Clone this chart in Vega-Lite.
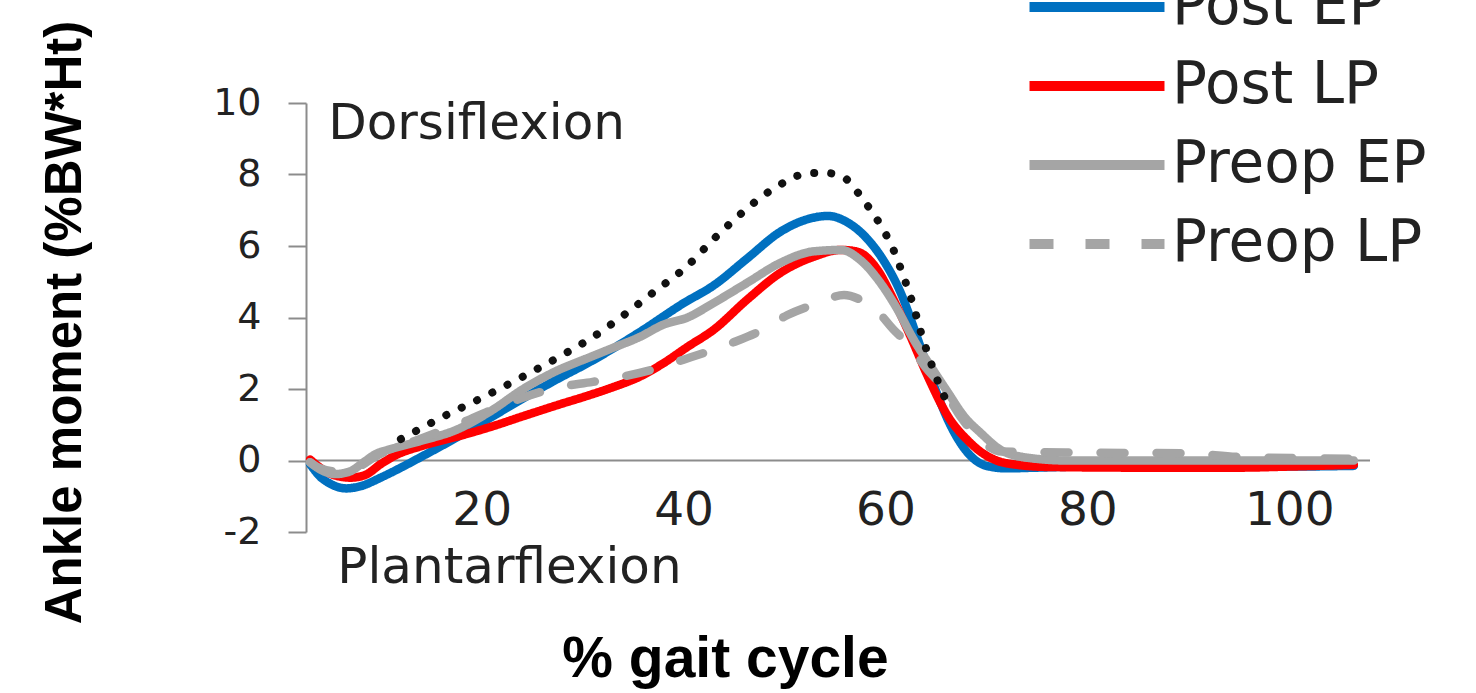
{
  "$schema": "https://vega.github.io/schema/vega-lite/v6.json",
  "width": 1064,
  "height": 429,
  "autosize": {"type": "none"},
  "padding": {"left": 306, "top": 103, "right": 106, "bottom": 161},
  "background": "white",
  "config": {"view": {"stroke": null}, "font": "DejaVu Sans"},
  "data": {"values": [{}]},
  "datasets": {
    "curves": [
      {"series": "Post EP", "pct": 3, "moment": -0.1},
      {"series": "Post EP", "pct": 4, "moment": -0.45},
      {"series": "Post EP", "pct": 5, "moment": -0.65},
      {"series": "Post EP", "pct": 6.6, "moment": -0.78},
      {"series": "Post EP", "pct": 8, "moment": -0.72},
      {"series": "Post EP", "pct": 10, "moment": -0.48},
      {"series": "Post EP", "pct": 12, "moment": -0.2},
      {"series": "Post EP", "pct": 14, "moment": 0.1},
      {"series": "Post EP", "pct": 17, "moment": 0.56},
      {"series": "Post EP", "pct": 20, "moment": 1.05},
      {"series": "Post EP", "pct": 24, "moment": 1.72},
      {"series": "Post EP", "pct": 27, "moment": 2.2},
      {"series": "Post EP", "pct": 31, "moment": 2.8},
      {"series": "Post EP", "pct": 35.7, "moment": 3.6},
      {"series": "Post EP", "pct": 40, "moment": 4.4},
      {"series": "Post EP", "pct": 43, "moment": 4.9},
      {"series": "Post EP", "pct": 46.3, "moment": 5.65},
      {"series": "Post EP", "pct": 49.6, "moment": 6.4},
      {"series": "Post EP", "pct": 52.3, "moment": 6.75},
      {"series": "Post EP", "pct": 54.3, "moment": 6.84},
      {"series": "Post EP", "pct": 56.3, "moment": 6.65},
      {"series": "Post EP", "pct": 58.2, "moment": 6.2},
      {"series": "Post EP", "pct": 59.8, "moment": 5.6},
      {"series": "Post EP", "pct": 61.5, "moment": 4.7},
      {"series": "Post EP", "pct": 63.2, "moment": 3.4},
      {"series": "Post EP", "pct": 64.8, "moment": 2.1},
      {"series": "Post EP", "pct": 66.5, "moment": 0.95},
      {"series": "Post EP", "pct": 68.2, "moment": 0.2},
      {"series": "Post EP", "pct": 70, "moment": -0.15},
      {"series": "Post EP", "pct": 72, "moment": -0.22},
      {"series": "Post EP", "pct": 75, "moment": -0.2},
      {"series": "Post EP", "pct": 80, "moment": -0.17},
      {"series": "Post EP", "pct": 90, "moment": -0.17},
      {"series": "Post EP", "pct": 100, "moment": -0.17},
      {"series": "Post EP", "pct": 106.4, "moment": -0.15},

      {"series": "Post LP", "pct": 3, "moment": 0.03},
      {"series": "Post LP", "pct": 4, "moment": -0.2},
      {"series": "Post LP", "pct": 5.5, "moment": -0.42},
      {"series": "Post LP", "pct": 7, "moment": -0.48},
      {"series": "Post LP", "pct": 8.5, "moment": -0.4},
      {"series": "Post LP", "pct": 10, "moment": -0.1},
      {"series": "Post LP", "pct": 11.5, "moment": 0.15},
      {"series": "Post LP", "pct": 14, "moment": 0.4},
      {"series": "Post LP", "pct": 17.6, "moment": 0.67},
      {"series": "Post LP", "pct": 21, "moment": 0.95},
      {"series": "Post LP", "pct": 24, "moment": 1.23},
      {"series": "Post LP", "pct": 27.5, "moment": 1.55},
      {"series": "Post LP", "pct": 30.8, "moment": 1.84},
      {"series": "Post LP", "pct": 33, "moment": 2.05},
      {"series": "Post LP", "pct": 35.7, "moment": 2.35},
      {"series": "Post LP", "pct": 38, "moment": 2.72},
      {"series": "Post LP", "pct": 40.4, "moment": 3.18},
      {"series": "Post LP", "pct": 43, "moment": 3.66},
      {"series": "Post LP", "pct": 46.3, "moment": 4.5},
      {"series": "Post LP", "pct": 49.6, "moment": 5.25},
      {"series": "Post LP", "pct": 52.9, "moment": 5.7},
      {"series": "Post LP", "pct": 55.6, "moment": 5.89},
      {"series": "Post LP", "pct": 57.2, "moment": 5.84},
      {"series": "Post LP", "pct": 59.2, "moment": 5.34},
      {"series": "Post LP", "pct": 60.8, "moment": 4.5},
      {"series": "Post LP", "pct": 62.5, "moment": 3.46},
      {"series": "Post LP", "pct": 64.2, "moment": 2.35},
      {"series": "Post LP", "pct": 66.2, "moment": 1.23},
      {"series": "Post LP", "pct": 68.2, "moment": 0.55},
      {"series": "Post LP", "pct": 69.4, "moment": 0.25},
      {"series": "Post LP", "pct": 71, "moment": 0.0},
      {"series": "Post LP", "pct": 73, "moment": -0.12},
      {"series": "Post LP", "pct": 76, "moment": -0.18},
      {"series": "Post LP", "pct": 85, "moment": -0.2},
      {"series": "Post LP", "pct": 95, "moment": -0.2},
      {"series": "Post LP", "pct": 100, "moment": -0.17},
      {"series": "Post LP", "pct": 106.4, "moment": -0.12},

      {"series": "Preop EP", "pct": 3, "moment": -0.05},
      {"series": "Preop EP", "pct": 4, "moment": -0.25},
      {"series": "Preop EP", "pct": 5.5, "moment": -0.38},
      {"series": "Preop EP", "pct": 7, "moment": -0.3},
      {"series": "Preop EP", "pct": 8.3, "moment": -0.05},
      {"series": "Preop EP", "pct": 9.5, "moment": 0.18},
      {"series": "Preop EP", "pct": 11, "moment": 0.32},
      {"series": "Preop EP", "pct": 14, "moment": 0.55},
      {"series": "Preop EP", "pct": 17.6, "moment": 0.87},
      {"series": "Preop EP", "pct": 21, "moment": 1.4},
      {"series": "Preop EP", "pct": 24, "moment": 1.98},
      {"series": "Preop EP", "pct": 27, "moment": 2.45},
      {"series": "Preop EP", "pct": 30.8, "moment": 2.9},
      {"series": "Preop EP", "pct": 33, "moment": 3.15},
      {"series": "Preop EP", "pct": 35.7, "moment": 3.46},
      {"series": "Preop EP", "pct": 38, "moment": 3.8},
      {"series": "Preop EP", "pct": 40.4, "moment": 4.0},
      {"series": "Preop EP", "pct": 43, "moment": 4.41},
      {"series": "Preop EP", "pct": 46.3, "moment": 4.97},
      {"series": "Preop EP", "pct": 49.6, "moment": 5.53},
      {"series": "Preop EP", "pct": 52.9, "moment": 5.85},
      {"series": "Preop EP", "pct": 55.6, "moment": 5.89},
      {"series": "Preop EP", "pct": 57.5, "moment": 5.61},
      {"series": "Preop EP", "pct": 59.5, "moment": 4.97},
      {"series": "Preop EP", "pct": 61.2, "moment": 4.22},
      {"series": "Preop EP", "pct": 62.8, "moment": 3.38},
      {"series": "Preop EP", "pct": 64.5, "moment": 2.63},
      {"series": "Preop EP", "pct": 66.2, "moment": 1.9},
      {"series": "Preop EP", "pct": 67.8, "moment": 1.23},
      {"series": "Preop EP", "pct": 69.4, "moment": 0.78},
      {"series": "Preop EP", "pct": 71.4, "moment": 0.3},
      {"series": "Preop EP", "pct": 74, "moment": 0.08},
      {"series": "Preop EP", "pct": 78, "moment": 0.0},
      {"series": "Preop EP", "pct": 90, "moment": 0.0},
      {"series": "Preop EP", "pct": 106.4, "moment": 0.0},

      {"series": "Preop LP", "pct": 3, "moment": -0.05},
      {"series": "Preop LP", "pct": 4, "moment": -0.22},
      {"series": "Preop LP", "pct": 6, "moment": -0.32},
      {"series": "Preop LP", "pct": 8, "moment": -0.15},
      {"series": "Preop LP", "pct": 9.5, "moment": 0.12},
      {"series": "Preop LP", "pct": 12, "moment": 0.4},
      {"series": "Preop LP", "pct": 15, "moment": 0.72},
      {"series": "Preop LP", "pct": 18, "moment": 1.05},
      {"series": "Preop LP", "pct": 21, "moment": 1.42},
      {"series": "Preop LP", "pct": 24, "moment": 1.75},
      {"series": "Preop LP", "pct": 27.5, "moment": 2.04},
      {"series": "Preop LP", "pct": 31, "moment": 2.2},
      {"series": "Preop LP", "pct": 34, "moment": 2.35},
      {"series": "Preop LP", "pct": 37, "moment": 2.55},
      {"series": "Preop LP", "pct": 40, "moment": 2.82},
      {"series": "Preop LP", "pct": 44.7, "moment": 3.28},
      {"series": "Preop LP", "pct": 47.7, "moment": 3.64},
      {"series": "Preop LP", "pct": 50.3, "moment": 4.07},
      {"series": "Preop LP", "pct": 53.3, "moment": 4.4},
      {"series": "Preop LP", "pct": 55.9, "moment": 4.63},
      {"series": "Preop LP", "pct": 57.5, "moment": 4.5},
      {"series": "Preop LP", "pct": 58.9, "moment": 4.26},
      {"series": "Preop LP", "pct": 60.8, "moment": 3.66},
      {"series": "Preop LP", "pct": 62.5, "moment": 3.18},
      {"series": "Preop LP", "pct": 64, "moment": 2.6},
      {"series": "Preop LP", "pct": 65.5, "moment": 2.1},
      {"series": "Preop LP", "pct": 67.5, "moment": 1.2},
      {"series": "Preop LP", "pct": 69.9, "moment": 0.45},
      {"series": "Preop LP", "pct": 71.5, "moment": 0.25},
      {"series": "Preop LP", "pct": 80, "moment": 0.22},
      {"series": "Preop LP", "pct": 90, "moment": 0.2},
      {"series": "Preop LP", "pct": 95, "moment": 0.1},
      {"series": "Preop LP", "pct": 106.4, "moment": 0.05}
    ],
    "normal": [
      {"pct": 12, "moment": 0.6},
      {"pct": 13.2, "moment": 0.78},
      {"pct": 16, "moment": 1.2},
      {"pct": 20, "moment": 1.75},
      {"pct": 24.1, "moment": 2.35},
      {"pct": 28, "moment": 2.95},
      {"pct": 31, "moment": 3.45},
      {"pct": 34, "moment": 4.05},
      {"pct": 37, "moment": 4.7},
      {"pct": 40.4, "moment": 5.45},
      {"pct": 43, "moment": 6.2},
      {"pct": 45, "moment": 6.73},
      {"pct": 48.9, "moment": 7.6},
      {"pct": 52.1, "moment": 8.02},
      {"pct": 53.9, "moment": 8.05},
      {"pct": 55.8, "moment": 7.93},
      {"pct": 57.8, "moment": 7.29},
      {"pct": 59.5, "moment": 6.59},
      {"pct": 60.8, "moment": 5.89},
      {"pct": 61.8, "moment": 5.14},
      {"pct": 62.8, "moment": 4.3},
      {"pct": 63.5, "moment": 3.6},
      {"pct": 64.3, "moment": 2.9},
      {"pct": 65.5, "moment": 2.0},
      {"pct": 66.5, "moment": 1.4}
    ]
  },
  "layer": [
    {
      "mark": {"type": "rule", "color": "#8c8c8c", "strokeWidth": 2},
      "encoding": {"y": {"datum": 0, "type": "quantitative"}}
    },
    {
      "data": {"name": "curves"},
      "mark": {"type": "line", "interpolate": "monotone", "strokeCap": "round", "strokeJoin": "round", "strokeWidth": 8.5},
      "encoding": {
        "x": {
          "field": "pct", "type": "quantitative",
          "scale": {"domain": [2.6, 108], "nice": false, "zero": false},
          "axis": {
            "values": [20, 40, 60, 80, 100],
            "domain": false, "ticks": false, "tickSize": 0, "grid": false,
            "labelFontSize": 47, "labelFont": "DejaVu Sans", "labelColor": "#222",
            "labelBaseline": "middle", "labelPadding": -22, "labelFlush": false, "labelOverlap": false,
            "title": "% gait cycle", "titleFont": "Liberation Sans", "titleFontWeight": "bold",
            "titleFontSize": 57, "titleColor": "#000", "titleX": 419, "titleY": 127,
            "titleBaseline": "middle", "titleAlign": "center"
          }
        },
        "y": {
          "field": "moment", "type": "quantitative",
          "scale": {"domain": [-2, 10], "nice": false, "zero": false},
          "axis": {
            "values": [-2, 0, 2, 4, 6, 8, 10],
            "labelExpr": "'' + datum.value",
            "domain": true, "domainColor": "#8c8c8c", "domainWidth": 2,
            "ticks": true, "tickSize": 18, "tickColor": "#8c8c8c", "tickWidth": 2, "grid": false,
            "labelFontSize": 38, "labelFont": "DejaVu Sans", "labelColor": "#222", "labelPadding": 27,
            "title": "Ankle moment (%BW*Ht)", "titleFont": "Liberation Sans", "titleFontWeight": "bold",
            "titleFontSize": 51, "titleColor": "#000", "titleAngle": -90, "titleX": -241, "titleY": 219,
            "titleAlign": "center", "titleBaseline": "middle"
          }
        },
        "color": {
          "field": "series", "type": "nominal",
          "scale": {"domain": ["Post EP", "Post LP", "Preop EP", "Preop LP"], "range": ["#0070C0", "#FF0000", "#A5A5A5", "#A5A5A5"]},
          "legend": {
            "orient": "none", "legendX": 762, "legendY": -125, "title": null,
            "symbolType": "M-4,0H4", "symbolSize": 1139, "symbolStrokeWidth": 10,
            "labelFontSize": 58, "labelFont": "DejaVu Sans", "labelColor": "#222",
            "labelOffset": 46, "rowPadding": 21, "labelLimit": 500
          }
        },
        "strokeDash": {
          "field": "series", "type": "nominal",
          "scale": {"domain": ["Post EP", "Post LP", "Preop EP", "Preop LP"], "range": [[1, 0], [1, 0], [1, 0], [24, 32]]},
          "legend": {
            "orient": "none", "legendX": 762, "legendY": -125, "title": null,
            "symbolType": "M-4,0H4", "symbolSize": 1139, "symbolStrokeWidth": 10,
            "labelFontSize": 58, "labelFont": "DejaVu Sans", "labelColor": "#222",
            "labelOffset": 46, "rowPadding": 21, "labelLimit": 500
          }
        }
      }
    },
    {
      "data": {"name": "normal"},
      "mark": {"type": "line", "interpolate": "monotone", "color": "#111", "strokeWidth": 8, "strokeDash": [0.1, 17], "strokeCap": "round"},
      "encoding": {
        "x": {"field": "pct", "type": "quantitative"},
        "y": {"field": "moment", "type": "quantitative"}
      }
    },
    {
      "mark": {"type": "text", "align": "left", "baseline": "alphabetic", "fontSize": 50, "font": "DejaVu Sans", "color": "#222"},
      "encoding": {
        "x": {"datum": 4.8, "type": "quantitative"},
        "y": {"datum": 9.0, "type": "quantitative"},
        "text": {"value": "Dorsiflexion"}
      }
    },
    {
      "mark": {"type": "text", "align": "left", "baseline": "alphabetic", "fontSize": 50, "font": "DejaVu Sans", "color": "#222"},
      "encoding": {
        "x": {"datum": 5.7, "type": "quantitative"},
        "y": {"datum": -3.42, "type": "quantitative"},
        "text": {"value": "Plantarflexion"}
      }
    }
  ]
}
